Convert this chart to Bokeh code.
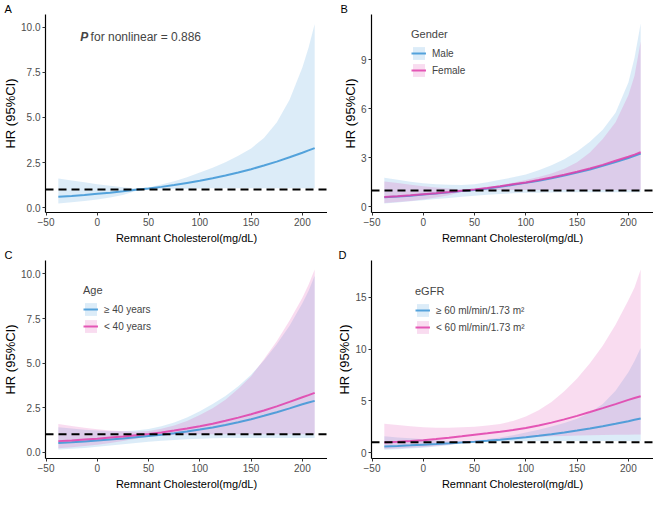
from bokeh.plotting import figure
from bokeh.models import Span, Label, Legend, LegendItem, FixedTicker, Range1d
from bokeh.layouts import column, row
from bokeh.embed import file_html
from bokeh.resources import INLINE

# ---------------- data ----------------
X = [-38, -25, -12.5, 0, 12.5, 25, 37.5, 50, 62.5, 75, 87.5, 100, 112.5, 125,
     137.5, 150, 162.5, 175, 187.5, 200, 206, 212]

# Panel A: overall
A_HR = [0.60, 0.645, 0.70, 0.765, 0.83, 0.905, 0.985, 1.06, 1.15, 1.25, 1.37, 1.49,
        1.63, 1.78, 1.95, 2.13, 2.33, 2.55, 2.79, 3.04, 3.17, 3.30]
A_UP = [1.62, 1.50, 1.40, 1.30, 1.21, 1.13, 1.06, 1.12, 1.28, 1.46, 1.68, 1.94,
        2.21, 2.52, 2.87, 3.28, 3.86, 4.71, 5.97, 7.77, 8.86, 10.18]
A_LO = [0.23, 0.30, 0.37, 0.45, 0.56, 0.70, 0.92, 0.99, 1.02, 1.04, 1.05, 1.06,
        1.07, 1.07, 1.08, 1.08, 1.08, 1.08, 1.08, 1.08, 1.08, 1.08]

# Panel B: gender
B_MALE_HR = [0.58, 0.63, 0.68, 0.75, 0.81, 0.88, 0.96, 1.03, 1.12, 1.22, 1.34, 1.46,
             1.59, 1.74, 1.91, 2.09, 2.28, 2.50, 2.73, 2.98, 3.11, 3.25]
B_MALE_UP = [1.78, 1.65, 1.53, 1.44, 1.38, 1.34, 1.33, 1.38, 1.50, 1.65, 1.80, 1.97,
             2.23, 2.53, 2.90, 3.38, 3.98, 4.70, 5.75, 7.60, 9.10, 11.20]
B_MALE_LO = [0.20, 0.26, 0.33, 0.40, 0.47, 0.54, 0.61, 0.67, 0.73, 0.78, 0.82, 0.85,
             0.86, 0.87, 0.88, 0.88, 0.89, 0.89, 0.89, 0.89, 0.89, 0.89]
B_FEM_HR = [0.60, 0.645, 0.70, 0.77, 0.83, 0.905, 0.985, 1.06, 1.15, 1.25, 1.37, 1.49,
            1.63, 1.79, 1.96, 2.14, 2.34, 2.56, 2.81, 3.06, 3.19, 3.33]
B_FEM_UP = [1.55, 1.45, 1.35, 1.26, 1.18, 1.11, 1.06, 1.10, 1.19, 1.31, 1.47, 1.64,
            1.82, 2.03, 2.32, 2.72, 3.32, 4.14, 5.16, 6.82, 8.00, 10.10]
B_FEM_LO = [0.23, 0.29, 0.36, 0.45, 0.56, 0.70, 0.92, 0.99, 1.01, 1.02, 1.03, 1.03,
            1.03, 1.03, 1.03, 1.03, 1.03, 1.03, 1.03, 1.03, 1.03, 1.03]

# Panel C: age
C_OLD_HR = [0.52, 0.55, 0.60, 0.65, 0.71, 0.77, 0.84, 0.91, 0.98, 1.06, 1.16, 1.27,
            1.39, 1.53, 1.68, 1.85, 2.04, 2.24, 2.46, 2.69, 2.79, 2.88]
C_OLD_UP = [1.40, 1.33, 1.26, 1.21, 1.18, 1.18, 1.21, 1.30, 1.45, 1.66, 1.95, 2.30,
            2.70, 3.15, 3.70, 4.35, 5.15, 6.05, 7.10, 8.35, 9.05, 9.90]
C_OLD_LO = [0.15, 0.19, 0.24, 0.30, 0.37, 0.44, 0.51, 0.58, 0.64, 0.69, 0.73, 0.76,
            0.78, 0.79, 0.80, 0.80, 0.80, 0.80, 0.80, 0.80, 0.80, 0.80]
C_YNG_HR = [0.62, 0.66, 0.71, 0.76, 0.82, 0.88, 0.95, 1.02, 1.11, 1.21, 1.33, 1.46,
            1.60, 1.76, 1.94, 2.13, 2.34, 2.57, 2.82, 3.08, 3.20, 3.33]
C_YNG_UP = [1.58, 1.47, 1.37, 1.29, 1.22, 1.17, 1.15, 1.19, 1.31, 1.49, 1.75, 2.08,
            2.46, 2.94, 3.56, 4.26, 5.21, 6.23, 7.39, 8.67, 9.39, 10.25]
C_YNG_LO = [0.22, 0.27, 0.34, 0.42, 0.52, 0.63, 0.75, 0.86, 0.93, 0.97, 0.99, 1.00,
            1.00, 1.00, 1.00, 1.00, 1.00, 1.00, 1.00, 1.00, 1.00, 1.00]

# Panel D: eGFR
D_HI_HR = [0.60, 0.645, 0.70, 0.765, 0.83, 0.905, 0.985, 1.06, 1.15, 1.25, 1.37, 1.49,
           1.63, 1.78, 1.95, 2.13, 2.33, 2.55, 2.79, 3.04, 3.17, 3.30]
D_HI_UP = [1.58, 1.47, 1.38, 1.29, 1.20, 1.13, 1.06, 1.12, 1.28, 1.46, 1.68, 1.94,
           2.21, 2.52, 2.87, 3.28, 3.86, 4.71, 5.97, 7.77, 8.86, 10.10]
D_HI_LO = [0.28, 0.33, 0.40, 0.48, 0.58, 0.72, 0.92, 1.00, 1.04, 1.07, 1.09, 1.10,
           1.11, 1.12, 1.12, 1.12, 1.12, 1.12, 1.12, 1.12, 1.12, 1.12]
D_LO_HR = [0.98, 1.04, 1.11, 1.20, 1.31, 1.43, 1.57, 1.72, 1.86, 2.01, 2.18, 2.38,
           2.62, 2.90, 3.21, 3.55, 3.92, 4.30, 4.69, 5.10, 5.28, 5.45]
D_LO_UP = [2.80, 2.66, 2.54, 2.45, 2.40, 2.40, 2.44, 2.51, 2.61, 2.77, 3.06, 3.49,
           4.10, 4.90, 5.93, 7.17, 8.63, 10.33, 12.37, 14.73, 15.96, 17.70]
D_LO_LO = [0.35, 0.40, 0.46, 0.55, 0.65, 0.77, 0.90, 1.02, 1.14, 1.25, 1.35, 1.44,
           1.51, 1.57, 1.61, 1.65, 1.68, 1.70, 1.72, 1.73, 1.74, 1.74]

X_TICKS = [-50, 0, 50, 100, 150, 200]
A_TICKS = [0, 2.5, 5, 7.5, 10]
A_TICK_LABELS = ["0.0", "2.5", "5.0", "7.5", "10.0"]
B_TICKS = [0, 3, 6, 9]
D_TICKS = [0, 5, 10, 15]

P_TEXT_BOLD = "P"
P_TEXT_REST = "for nonlinear = 0.886"

BLUE = "#3B95D6"
PINK = "#E03DAA"
FONT = "Liberation Sans"
FW, FH = 282, 198


def make_panel(letter, letter_dx, ylo, yhi, yticks, ylabels, series,
               legend_title=None, legend_loc=(34, 130)):
    p = figure(frame_width=FW, frame_height=FH,
               output_backend="svg", toolbar_location=None,
               x_range=Range1d(-50.5, 224.5), y_range=Range1d(ylo, yhi),
               min_border_left=44, min_border_right=0, min_border_top=0,
               min_border_bottom=34)
    p.outline_line_color = None
    p.xgrid.visible = False
    p.ygrid.visible = False
    p.background_fill_color = "white"

    p.title.text = letter
    p.title.align = "left"
    p.title.offset = letter_dx
    p.title.standoff = 0
    p.title.text_font = FONT
    p.title.text_font_size = "11px"
    p.title.text_font_style = "normal"
    p.title.text_color = "black"

    bands = []
    for (name, color, hr, up, lo) in series:
        bands.append(p.varea(x=X, y1=lo, y2=up, fill_color=color, fill_alpha=0.18))
    lines = []
    for (name, color, hr, up, lo) in series:
        lines.append(p.line(X, hr, line_color=color, line_width=2, line_alpha=0.85))

    p.add_layout(Span(location=1, dimension="width", line_color="black",
                      line_width=2, line_dash="8 5"))

    for ax in (p.xaxis[0], p.yaxis[0]):
        ax.axis_line_color = "black"
        ax.axis_line_width = 1.2
        ax.major_tick_line_color = "#333333"
        ax.major_tick_in = 0
        ax.major_tick_out = 3
        ax.minor_tick_line_color = None
        ax.major_label_text_font = FONT
        ax.major_label_text_font_size = "10px"
        ax.major_label_text_color = "#4D4D4D"
        ax.axis_label_text_font = FONT
        ax.axis_label_text_font_style = "normal"
        ax.axis_label_text_color = "black"
        ax.major_label_standoff = 2
    p.xaxis.axis_label_text_font_size = "11px"
    p.xaxis.axis_label_standoff = 3
    p.yaxis.axis_label_text_font_size = "13px"
    p.yaxis.axis_label_standoff = 0

    p.xaxis.axis_label = "Remnant Cholesterol(mg/dL)"
    p.yaxis.axis_label = "HR (95%CI)"
    p.xaxis.ticker = FixedTicker(ticks=X_TICKS)
    p.yaxis.ticker = FixedTicker(ticks=yticks)
    if ylabels is not None:
        p.yaxis.major_label_overrides = {t: l for t, l in zip(yticks, ylabels)}

    if legend_title is not None:
        items = [LegendItem(label=s[0], renderers=[b, l])
                 for s, b, l in zip(series, bands, lines)]
        leg = Legend(items=items, title=legend_title, location=legend_loc,
                     border_line_color=None, background_fill_alpha=0,
                     title_text_font=FONT, title_text_font_size="11px",
                     title_text_font_style="normal", title_standoff=5,
                     label_text_font=FONT, label_text_font_size="10px",
                     glyph_width=15, glyph_height=16, label_height=16,
                     label_standoff=6, spacing=1, padding=0, margin=0)
        p.add_layout(leg)
    return p


pa = make_panel("A", -41, -0.27, 10.7, A_TICKS, A_TICK_LABELS,
                [("Overall", BLUE, A_HR, A_UP, A_LO)])
pa.add_layout(Label(x=-16.6, y=9.45, text=P_TEXT_BOLD, text_font=FONT,
                    text_font_size="12px", text_font_style="bold italic",
                    text_baseline="middle"))
pa.add_layout(Label(x=-6.5, y=9.45, text=P_TEXT_REST, text_font=FONT,
                    text_font_size="12px", text_baseline="middle"))

pb = make_panel("B", -31, -0.35, 11.75, B_TICKS, None,
                [("Male", BLUE, B_MALE_HR, B_MALE_UP, B_MALE_LO),
                 ("Female", PINK, B_FEM_HR, B_FEM_UP, B_FEM_LO)],
                legend_title="Gender", legend_loc=(40, FH - 64))
pc = make_panel("C", -41, -0.355, 10.755, A_TICKS, A_TICK_LABELS,
                [("≥ 40 years", BLUE, C_OLD_HR, C_OLD_UP, C_OLD_LO),
                 ("< 40 years", PINK, C_YNG_HR, C_YNG_UP, C_YNG_LO)],
                legend_title="Age", legend_loc=(38, FH - 74))
pd_ = make_panel("D", -33, -0.57, 18.57, D_TICKS, None,
                 [("≥ 60 ml/min/1.73 m²", BLUE, D_HI_HR, D_HI_UP, D_HI_LO),
                  ("< 60 ml/min/1.73 m²", PINK, D_LO_HR, D_LO_UP, D_LO_LO)],
                 legend_title="eGFR", legend_loc=(44, FH - 75))

layout = column(row(pa, pb), row(pc, pd_))
open("out.html", "w").write(file_html(layout, INLINE))
